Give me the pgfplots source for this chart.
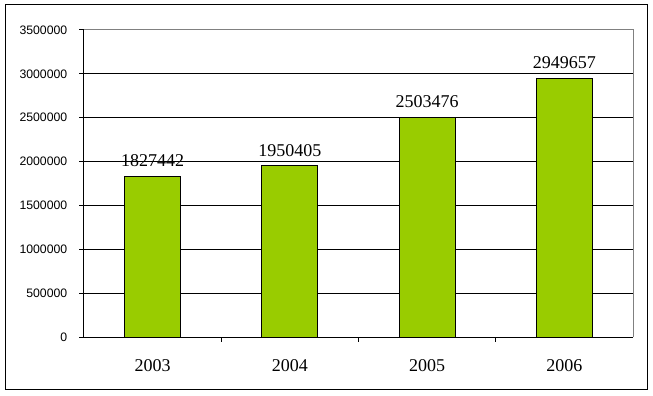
\documentclass[border=0pt]{standalone}
\usepackage{fontspec}
\setmainfont{Liberation Serif}
\newfontfamily\arialf{Liberation Sans}
\usepackage{pgfplots}
\pgfplotsset{compat=1.18}
\definecolor{bargreen}{HTML}{99CC00}
\begin{document}
\begin{tikzpicture}[x=0.75pt,y=0.75pt]
\begin{axis}[
  at={(0,0)}, anchor=south west,
  scale only axis,
  width=411.75pt, height=230.25pt,
  xmin=-0.5, xmax=3.5,
  ymin=0, ymax=3500000,
  ytick={0,500000,...,3500000},
  scaled y ticks=false,
  yticklabel style={/pgf/number format/fixed,/pgf/number format/1000 sep={},/pgf/number format/assume math mode=true,font=\fontsize{9.2}{10}\arialf, xshift=-5.5pt},
  xtick={0.5,1.5,2.5},
  xticklabels={},
  xtick align=inside,
  ytick align=outside,
  extra x ticks={0,1,2,3},
  extra x tick labels={2003,2004,2005,2006},
  extra x tick style={tick style={draw=none}, xticklabel style={font=\fontsize{13.5}{15}\selectfont, yshift=-10pt}},
  axis lines*=left,
  axis line style={black, line width=0.75pt, -},
  tick style={black, line width=0.75pt},
  major tick length=3.5pt,
  ymajorgrids,
  major grid style={black, line width=0.75pt},
  ybar, bar width=42pt,
  point meta=explicit symbolic,
  nodes near coords,
  every node near coord/.append style={font=\fontsize{13.5}{15}\selectfont, yshift=3.5pt},
  clip=false,
]
\addplot[fill=bargreen, draw=black, line width=0.75pt] coordinates {
  (0,1827442) [1827442]
  (1,1950405) [1950405]
  (2,2503476) [2503476]
  (3,2949657) [2949657]
};
\draw[gray, line width=0.75pt] (rel axis cs:0,1) -- (rel axis cs:1,1) -- (rel axis cs:1,0);
\end{axis}
\draw[black, line width=0.75pt] (-78,-52) rectangle (563,332);
\path[use as bounding box] (-84,-59) rectangle (569,337);
\end{tikzpicture}
\end{document}
